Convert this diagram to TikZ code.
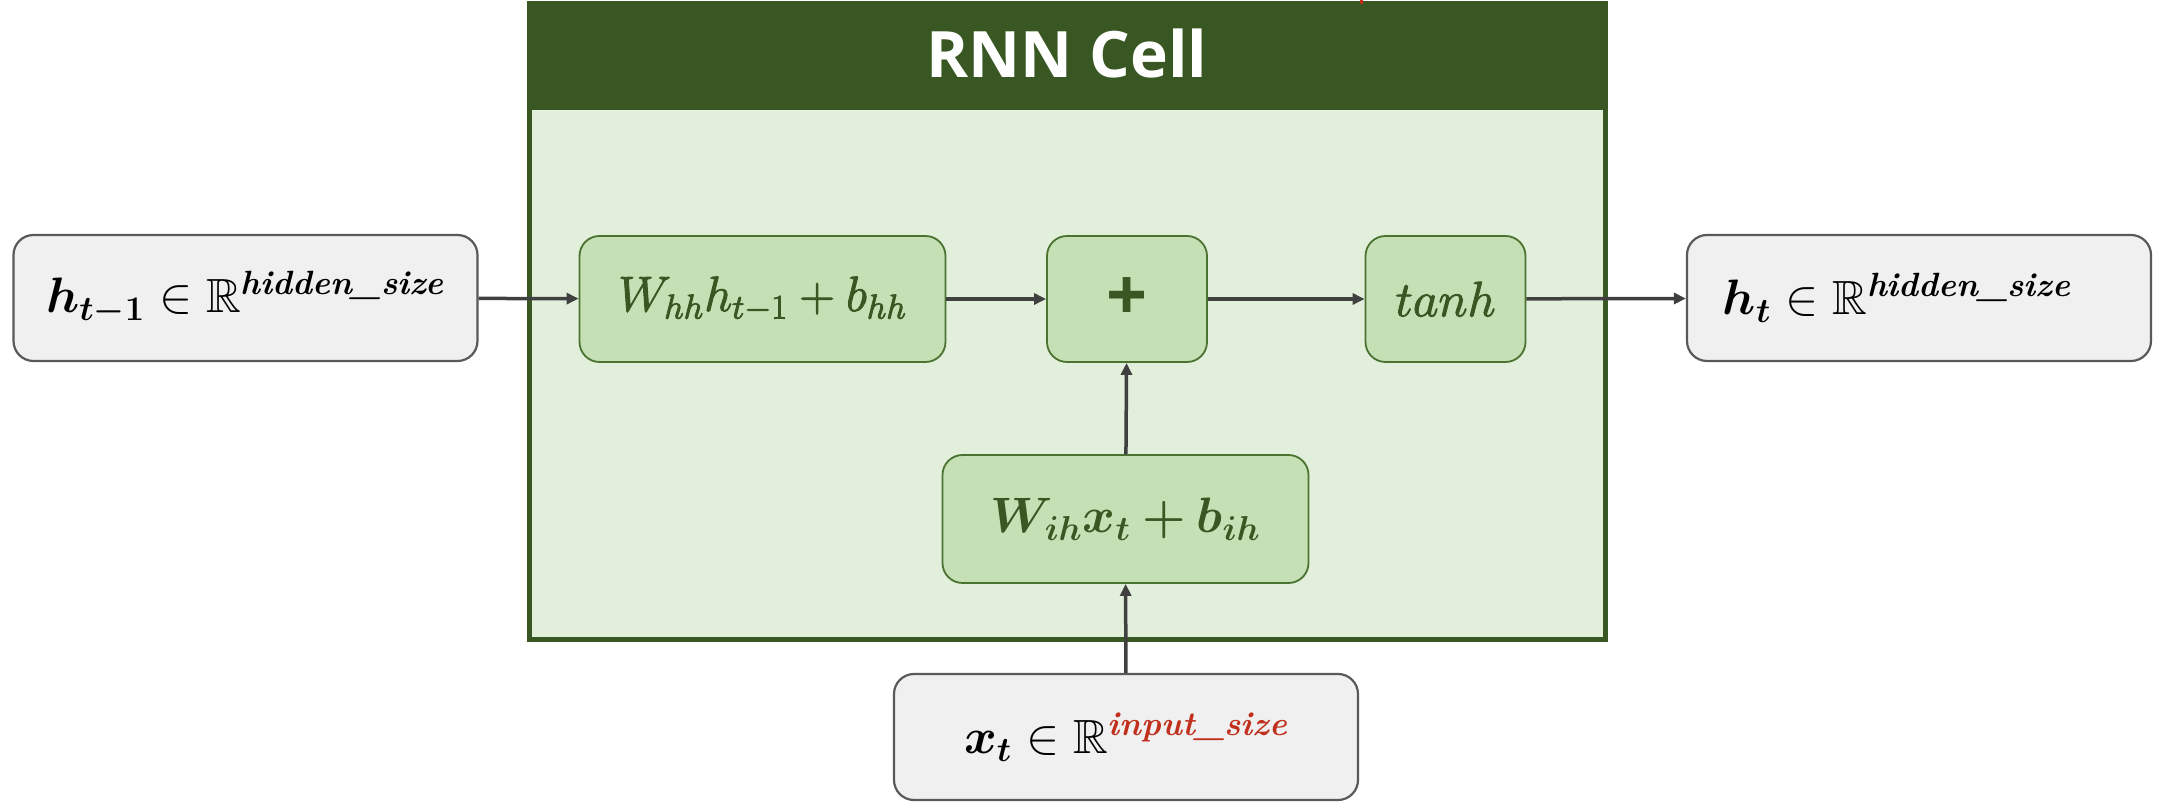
\documentclass[tikz,border=0pt]{standalone}
\usepackage{amsmath,amssymb,bm}
\usepackage{fontspec}
\newfontfamily\hdrfont{Open Sans}
\usetikzlibrary{arrows.meta}
\definecolor{dkgreen}{HTML}{385723}
\definecolor{bdgreen}{HTML}{4A7230}
\definecolor{ltgreen}{HTML}{E2EFDA}
\definecolor{midgreen}{HTML}{C5E0B4}
\definecolor{boxgray}{HTML}{F0F0F0}
\definecolor{bdgray}{HTML}{595959}
\definecolor{arrowc}{HTML}{404040}
\definecolor{redtxt}{HTML}{C0301C}
\tikzset{
  graybox/.style={draw=bdgray, fill=boxgray, line width=1.1pt, rounded corners=10pt, inner sep=0pt, align=center},
  greenbox/.style={draw=bdgreen, fill=midgreen, line width=0.9pt, rounded corners=10pt, inner sep=0pt, text=dkgreen, align=center},
  conn/.style={draw=arrowc, line width=1.75pt, -{Triangle[length=6pt,width=5.5pt]}},
  mathtxt/.style={font=\fontsize{24}{28}\selectfont},
}
\newcommand{\bfit}[1]{\text{\bfseries\itshape #1}}
\newcommand{\heavytxt}[1]{\special{pdf:literal direct 0.22 0.341 0.137 RG 2 Tr 0.45 w}#1\special{pdf:literal direct 0 Tr}}
\begin{document}
\begin{tikzpicture}[x=0.5pt,y=-0.5pt]
\useasboundingbox (0,0) rectangle (2160,806);
% outer cell
\node[draw=dkgreen, fill=ltgreen, line width=2.5pt, minimum width=538pt, minimum height=318pt, inner sep=0pt] (cell) at (1067,322) {};
\node[fill=dkgreen, minimum width=538pt, minimum height=54pt, inner sep=0pt, anchor=north] (hdr) at (cell.north) {};
\node[text=white, font=\hdrfont\bfseries\fontsize{32}{36}\selectfont] (title) at (1067,54) {RNN Cell};
\coordinate (redtop) at (1361,0);
\coordinate (redbot) at (1361,4);
\draw[redtxt, line width=1.5pt] (redtop) -- (redbot);
% outer boxes
\node[graybox, mathtxt, minimum width=232pt, minimum height=63pt] (hprev) at (245.5,298)
  {$\bm{h}_{\bm{t-1}} \in \mathbb{R}^{\bfit{hidden\_size}}$};
\node[graybox, mathtxt, minimum width=232pt, minimum height=63pt] (hnext) at (1919,298)
  {$\bm{h}_{\bm{t}} \in \mathbb{R}^{\bfit{hidden\_size}}$\hspace*{22pt}};
\node[graybox, mathtxt, minimum width=232pt, minimum height=63pt] (xt) at (1126,737)
  {$\bm{x}_{\bm{t}} \in \mathbb{R}^{\textcolor{redtxt}{\bfit{input\_size}}}$};
% inner boxes
\node[greenbox, font=\fontsize{26}{30}\selectfont, minimum width=183pt, minimum height=63pt] (whh) at (762.5,299)
  {\heavytxt{$W_{hh}h_{t-1}+b_{hh}$}};
\node[greenbox, minimum width=80pt, minimum height=63pt, font=\hdrfont\bfseries\fontsize{36}{36}\selectfont] (plus) at (1127,299) {+};
\node[greenbox, font=\fontsize{27}{30}\selectfont, minimum width=80pt, minimum height=63pt] (tanh) at (1445.5,299) {\heavytxt{$tanh$}};
\node[greenbox, mathtxt, minimum width=183pt, minimum height=64pt] (wih) at (1125.5,519)
  {$\bm{W_{ih}x_t+b_{ih}}$};
% connectors
\draw[conn] (hprev) -- (whh);
\draw[conn] (whh) -- (plus);
\draw[conn] (plus) -- (tanh);
\draw[conn] (tanh) -- (hnext);
\draw[conn] (wih) -- (plus);
\draw[conn] (xt) -- (wih);
\end{tikzpicture}
\end{document}
